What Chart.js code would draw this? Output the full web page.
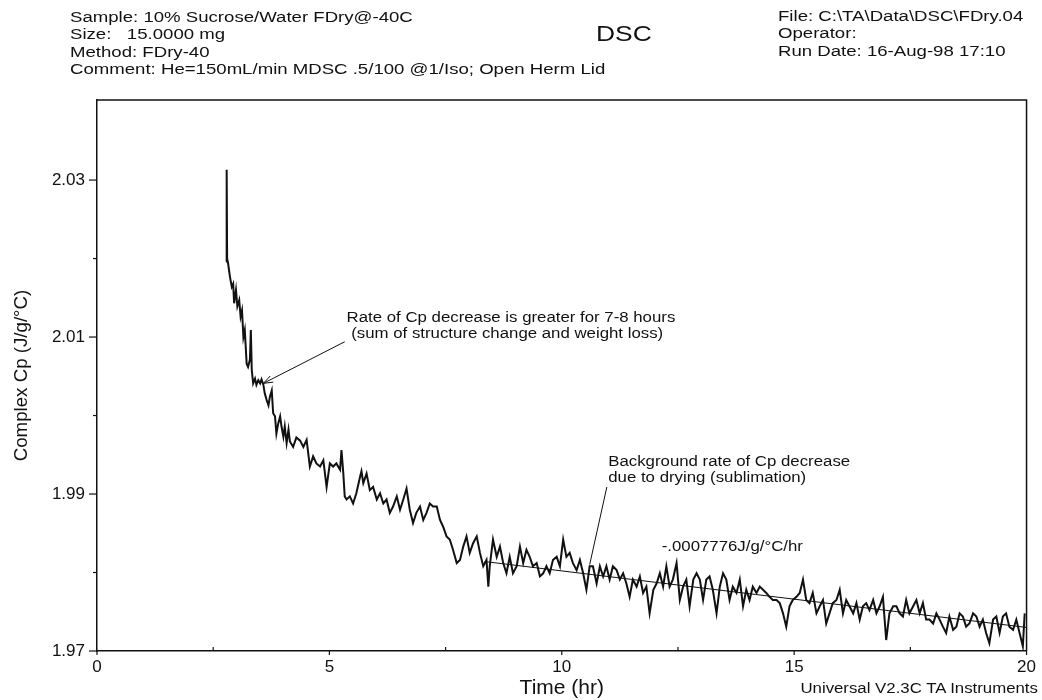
<!DOCTYPE html>
<html>
<head>
<meta charset="utf-8">
<script src="https://cdn.jsdelivr.net/npm/chart.js@4.4.1/dist/chart.umd.min.js"></script>
<style>
  body { margin: 0; background: #fff; }
  #wrap { position: relative; width: 1042px; height: 700px; font-family: 'Liberation Sans', Arial, sans-serif; color: #111; }
  /* the scanned plot is a little wider than tall, so text gets a horizontal stretch */
  .hd { position: absolute; white-space: pre; font-size: 15.5px; line-height: 17.3px; transform: scaleX(1.2); transform-origin: left top; }
  #left { left: 70px; top: 8px; }
  #right { left: 778px; top: 7px; }
  #dsc { position: absolute; left: 596px; top: 21px; font-size: 22px; transform: scaleX(1.2); transform-origin: left top; }
  #foot { position: absolute; right: 4px; top: 680px; font-size: 14px; transform: scaleX(1.2); transform-origin: right top; }
</style>
</head>
<body>
<div id="wrap">
  <canvas id="dscChart" width="1042" height="700"></canvas>
  <div class="hd" id="left">Sample: 10% Sucrose/Water FDry@-40C
Size:   15.0000 mg
Method: FDry-40
Comment: He=150mL/min MDSC .5/100 @1/Iso; Open Herm Lid</div>
  <div id="dsc">DSC</div>
  <div class="hd" id="right">File: C:\TA\Data\DSC\FDry.04
Operator:
Run Date: 16-Aug-98 17:10</div>
  <div id="foot">Universal V2.3C TA Instruments</div>
</div>
<script>
// time (hr)
const timeHr = [
  2.78, 2.79, 2.80, 2.82, 2.86, 2.90, 2.93, 2.95, 2.99, 3.02,
  3.06, 3.09, 3.12, 3.15, 3.18, 3.22, 3.25, 3.29, 3.31, 3.33,
  3.36, 3.40, 3.43, 3.47, 3.51, 3.54, 3.58, 3.61, 3.65, 3.69,
  3.72, 3.76, 3.79, 3.83, 3.86, 3.90, 3.94, 3.97, 4.01, 4.04,
  4.08, 4.12, 4.15, 4.22, 4.29,
  4.37, 4.44, 4.51, 4.58, 4.65, 4.72, 4.80, 4.87, 4.94, 5.01,
  5.08, 5.15, 5.23, 5.26, 5.30, 5.33, 5.37, 5.44, 5.51, 5.58,
  5.66, 5.69, 5.73, 5.80, 5.87, 5.94, 6.02, 6.09, 6.16, 6.23,
  6.30, 6.37, 6.45, 6.52, 6.59, 6.66, 6.73, 6.80, 6.87, 6.95,
  7.02, 7.09, 7.16, 7.23, 7.31, 7.38, 7.45, 7.52, 7.59, 7.66,
  7.74, 7.81, 7.88, 7.95, 8.02, 8.09, 8.17, 8.24, 8.31, 8.38,
  8.42, 8.45, 8.52, 8.60, 8.67, 8.74, 8.81, 8.88, 8.95, 9.03,
  9.10, 9.17, 9.24, 9.31, 9.38, 9.46, 9.53, 9.60, 9.67, 9.74,
  9.81, 9.89, 9.96, 10.03, 10.10, 10.17, 10.24, 10.32, 10.39, 10.46,
  10.53, 10.60, 10.67, 10.75, 10.82, 10.89, 10.96, 11.03, 11.10, 11.18,
  11.25, 11.32, 11.39, 11.46, 11.53, 11.61, 11.68, 11.75, 11.82, 11.89,
  11.97, 12.04, 12.11, 12.18, 12.25, 12.32, 12.39, 12.47, 12.54, 12.61,
  12.68, 12.75, 12.83, 12.90,
  12.97, 13.04, 13.11, 13.18, 13.25, 13.33, 13.40, 13.47, 13.54, 13.61,
  13.68, 13.76, 13.83, 13.90, 13.97, 14.04, 14.11, 14.19, 14.26, 14.33,
  14.40, 14.47, 14.54, 14.62, 14.69, 14.76, 14.83, 14.90, 14.97, 15.05,
  15.12, 15.19, 15.26, 15.33, 15.40, 15.48, 15.55, 15.62, 15.69, 15.76,
  15.83, 15.91, 15.98, 16.05, 16.12, 16.19, 16.27, 16.34, 16.41, 16.48,
  16.55, 16.62, 16.70, 16.77, 16.84, 16.91, 16.98, 17.05, 17.13, 17.20,
  17.27, 17.34, 17.41, 17.48, 17.56, 17.63, 17.70, 17.77, 17.84, 17.91,
  17.99, 18.06, 18.13, 18.20, 18.27, 18.34, 18.42, 18.49, 18.56, 18.63,
  18.70, 18.77, 18.85, 18.92, 18.99, 19.06, 19.13, 19.20, 19.28, 19.35,
  19.42, 19.49, 19.56, 19.63, 19.71, 19.78, 19.85, 19.92, 19.96
];

// complex Cp (J/g/°C)
const complexCp = [
  2.0196, 2.0313, 2.0200, 2.0194, 2.0177, 2.0164, 2.0168, 2.0143, 2.0160, 2.0139,
  2.0147, 2.0126, 2.0134, 2.0100, 2.0109, 2.0066, 2.0062, 2.0071, 2.0109, 2.0058,
  2.0041, 2.0047, 2.0039, 2.0045, 2.0041, 2.0046, 2.0039, 2.0028, 2.0020, 2.0013,
  2.0024, 2.0032, 2.0003, 1.9999, 1.9977, 1.9990, 1.9999, 1.9986, 1.9973, 1.9986,
  1.9965, 1.9982, 1.9967, 1.9960, 1.9972,
  1.9968, 1.9960, 1.9969, 1.9935, 1.9948, 1.9939, 1.9935, 1.9943, 1.9909, 1.9939,
  1.9935, 1.9939, 1.9931, 1.9956, 1.9926, 1.9897, 1.9893, 1.9897, 1.9888, 1.9901,
  1.9922, 1.9929, 1.9914, 1.9926, 1.9905, 1.9909, 1.9893, 1.9901, 1.9888, 1.9893,
  1.9876, 1.9884, 1.9897, 1.9880, 1.9893, 1.9907, 1.9880, 1.9863, 1.9876, 1.9884,
  1.9867, 1.9876, 1.9888, 1.9884, 1.9884, 1.9867, 1.9858, 1.9846, 1.9842, 1.9829,
  1.9812, 1.9816, 1.9833, 1.9846, 1.9825, 1.9837, 1.9846, 1.9825, 1.9808, 1.9816,
  1.9782, 1.9808, 1.9842, 1.9820, 1.9833, 1.9812, 1.9799, 1.9820, 1.9799, 1.9808,
  1.9833, 1.9812, 1.9829, 1.9820, 1.9808, 1.9812, 1.9795, 1.9799, 1.9808, 1.9799,
  1.9816, 1.9820, 1.9808, 1.9842, 1.9820, 1.9825, 1.9812, 1.9803, 1.9816, 1.9799,
  1.9778, 1.9808, 1.9808, 1.9786, 1.9808, 1.9795, 1.9808, 1.9791, 1.9808, 1.9803,
  1.9791, 1.9799, 1.9786, 1.9769, 1.9791, 1.9782, 1.9795, 1.9774, 1.9782, 1.9748,
  1.9778, 1.9786, 1.9799, 1.9782, 1.9808, 1.9782, 1.9791, 1.9812, 1.9765, 1.9782,
  1.9791, 1.9757, 1.9791, 1.9799,
  1.9791, 1.9765, 1.9791, 1.9795, 1.9778, 1.9748, 1.9782, 1.9799, 1.9791, 1.9765,
  1.9782, 1.9774, 1.9791, 1.9757, 1.9778, 1.9765, 1.9782, 1.9774, 1.9782, 1.9778,
  1.9774, 1.9769, 1.9765, 1.9765, 1.9761, 1.9748, 1.9731, 1.9757, 1.9765, 1.9769,
  1.9774, 1.9791, 1.9765, 1.9761, 1.9774, 1.9748, 1.9757, 1.9765, 1.9735, 1.9748,
  1.9761, 1.9765, 1.9778, 1.9748, 1.9765, 1.9757, 1.9748, 1.9761, 1.9740, 1.9757,
  1.9761, 1.9752, 1.9765, 1.9748, 1.9757, 1.9769, 1.9714, 1.9748, 1.9757, 1.9757,
  1.9748, 1.9744, 1.9765, 1.9748, 1.9757, 1.9765, 1.9748, 1.9761, 1.9740, 1.9740,
  1.9735, 1.9748, 1.9740, 1.9731, 1.9723, 1.9744, 1.9727, 1.9731, 1.9748, 1.9744,
  1.9731, 1.9735, 1.9748, 1.9744, 1.9731, 1.9740, 1.9723, 1.9710, 1.9740, 1.9744,
  1.9723, 1.9744, 1.9748, 1.9731, 1.9727, 1.9740, 1.9723, 1.9706, 1.9748
];

// fitted background line (-.0007776 J/g/°C/hr)
const fitTime = [8.34, 20];
const fitCp = [1.9814, 1.9730];

const cpTicks = [1.97, 1.98, 1.99, 2.00, 2.01, 2.02, 2.03];
const cpTickLabels = ['1.97', '', '1.99', '', '2.01', '', '2.03'];
const timeTicks = [0, 2.5, 5, 7.5, 10, 12.5, 15, 17.5, 20];
const timeTickLabels = ['0', '', '5', '', '10', '', '15', '', '20'];

// annotations, anchored in data units
const notes = [
  { lines: ['Rate of Cp decrease is greater for 7-8 hours', ' (sum of structure change and weight loss)'],
    at: [5.37, 2.0124], from: [5.33, 2.0094], to: [3.58, 2.0041], arrow: true },
  { lines: ['Background rate of Cp decrease', 'due to drying (sublimation)'],
    at: [11.0, 1.9940], from: [10.97, 1.9909], to: [10.60, 1.9810], arrow: false },
  { lines: ['-.0007776J/g/\u00B0C/hr'], at: [12.15, 1.9832] }
];

const FONT = "'Liberation Sans', Arial, sans-serif";
const INK = '#111';
const STRETCH = 1.2;

const decor = {
  id: 'decor',
  afterDraw(chart) {
    const { ctx, chartArea: a, scales: { x, y } } = chart;
    ctx.save();
    ctx.strokeStyle = INK;
    ctx.fillStyle = INK;

    // top and right frame
    ctx.lineWidth = 1.5;
    ctx.beginPath();
    ctx.moveTo(a.left, a.top);
    ctx.lineTo(a.right, a.top);
    ctx.lineTo(a.right, a.bottom);
    ctx.stroke();

    // tick marks: labelled ones longer
    ctx.lineWidth = 1.2;
    y.ticks.forEach((t, i) => {
      const py = y.getPixelForValue(t.value);
      const len = cpTickLabels[i] ? 8 : 4;
      ctx.beginPath(); ctx.moveTo(a.left - len, py); ctx.lineTo(a.left, py); ctx.stroke();
    });
    x.ticks.forEach((t, i) => {
      const px = x.getPixelForValue(t.value);
      ctx.beginPath();
      if (timeTickLabels[i]) { ctx.moveTo(px, a.bottom); ctx.lineTo(px, a.bottom + 4); }
      else { ctx.moveTo(px, a.bottom); ctx.lineTo(px, a.bottom - 4); }
      ctx.stroke();
    });

    // annotation text and pointers
    ctx.font = '14px ' + FONT;
    ctx.textBaseline = 'middle';
    ctx.textAlign = 'left';
    ctx.lineWidth = 1;
    notes.forEach(n => {
      const tx = x.getPixelForValue(n.at[0]);
      const ty = y.getPixelForValue(n.at[1]);
      n.lines.forEach((s, k) => {
        ctx.save();
        ctx.translate(tx, ty + k * 16);
        ctx.scale(STRETCH, 1);
        ctx.fillText(s, 0, 0);
        ctx.restore();
      });
      if (!n.from) return;
      const x1 = x.getPixelForValue(n.from[0]), y1 = y.getPixelForValue(n.from[1]);
      const x2 = x.getPixelForValue(n.to[0]), y2 = y.getPixelForValue(n.to[1]);
      ctx.beginPath(); ctx.moveTo(x1, y1); ctx.lineTo(x2, y2); ctx.stroke();
      if (n.arrow) {
        const ang = Math.atan2(y2 - y1, x2 - x1);
        ctx.beginPath();
        ctx.moveTo(x2 - 10 * Math.cos(ang - 0.35), y2 - 10 * Math.sin(ang - 0.35));
        ctx.lineTo(x2, y2);
        ctx.lineTo(x2 - 10 * Math.cos(ang + 0.35), y2 - 10 * Math.sin(ang + 0.35));
        ctx.stroke();
      }
    });
    ctx.restore();
  }
};

new Chart(document.getElementById('dscChart'), {
  type: 'line',
  data: {
    datasets: [
      {
        label: 'Complex Cp',
        data: timeHr.map((t, i) => ({ x: t, y: complexCp[i] })),
        borderColor: INK,
        borderWidth: 2,
        pointRadius: 0,
        tension: 0
      },
      {
        label: 'Fit',
        data: fitTime.map((t, i) => ({ x: t, y: fitCp[i] })),
        borderColor: INK,
        borderWidth: 1,
        pointRadius: 0
      }
    ]
  },
  plugins: [decor],
  options: {
    responsive: false,
    animation: false,
    events: [],
    layout: { padding: { top: 100, right: 15, left: 0, bottom: 0 } },
    plugins: { legend: { display: false }, tooltip: { enabled: false } },
    scales: {
      x: {
        type: 'linear',
        min: 0,
        max: 20,
        afterBuildTicks: s => { s.ticks = timeTicks.map(v => ({ value: v })); },
        afterFit: s => { s.height = 49; },
        grid: { display: false, drawTicks: false },
        border: { display: true, color: INK, width: 1.5 },
        ticks: {
          autoSkip: false,
          maxRotation: 0,
          padding: 6,
          color: INK,
          font: { family: FONT, size: 17 },
          callback: (v, i) => timeTickLabels[i]
        },
        title: {
          display: true,
          text: 'Time (hr)',
          color: INK,
          font: { family: FONT, size: 21 },
          padding: { top: 0, bottom: -1 }
        }
      },
      y: {
        type: 'linear',
        min: 1.97,
        max: 2.0402,
        afterBuildTicks: s => { s.ticks = cpTicks.map(v => ({ value: v })); },
        afterFit: s => { s.width = 97; },
        grid: { display: false, drawTicks: false },
        border: { display: true, color: INK, width: 1.5 },
        ticks: {
          autoSkip: false,
          padding: 12,
          color: INK,
          font: { family: FONT, size: 17 },
          callback: (v, i) => cpTickLabels[i]
        },
        title: {
          display: true,
          text: 'Complex Cp (J/g/\u00B0C)',
          color: INK,
          font: { family: FONT, size: 18.7 },
          padding: { top: 11, bottom: 0 }
        }
      }
    }
  }
});
</script>
</body>
</html>
